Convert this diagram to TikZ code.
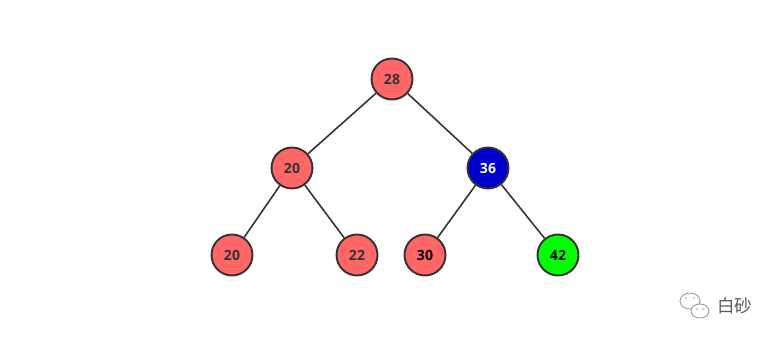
\documentclass[tikz,border=0pt]{standalone}
\usepackage{fontspec}
\usepackage{xcolor}
\setmainfont{Open Sans}
\newfontfamily\cjk{Noto Sans CJK SC}
\usetikzlibrary{positioning}
\definecolor{edgegray}{HTML}{333333}
\definecolor{keyred}{HTML}{FF6666}
\definecolor{keyblue}{HTML}{0000CC}
\definecolor{keygreen}{HTML}{00FF00}
\definecolor{markgray}{HTML}{9A9A9A}

\begin{document}
\begin{tikzpicture}[x=0.02cm, y=-0.02cm,
      every node/.style={font=\fontsize{8}{9}\selectfont\bfseries},
      key/.style={circle, draw=edgegray, line width=1.1pt, minimum size=0.82cm, inner sep=0pt, fill=keyred, text=edgegray},
      link/.style={draw=edgegray, line width=0.9pt}]
    \useasboundingbox (0,0) rectangle (779,340);
    \node[key] (root) at (392,79) {28};
    \node[key] (l) at (292,168) {20};
    \node[key, fill=keyblue, text=white] (r) at (488,168) {36};
    \node[key] (ll) at (232,255) {20};
    \node[key] (lr) at (357,255) {22};
    \node[key, text=black] (rl) at (425,255) {30};
    \node[key, fill=keygreen, text=black] (rr) at (558,255) {42};
    \draw[link] (root) -- (l);
    \draw[link] (root) -- (r);
    \draw[link] (l) -- (ll);
    \draw[link] (l) -- (lr);
    \draw[link] (r) -- (rl);
    \draw[link] (r) -- (rr);
    % watermark
    \draw[markgray, line width=0.5pt, fill=white] (690,301) ellipse (10 and 8);
    \fill[markgray] (686,298) circle (0.9) (694,298) circle (0.9);
    \draw[markgray, line width=0.5pt, fill=white] (700,311) ellipse (9 and 7);
    \fill[markgray] (697,309) circle (0.8) (703,309) circle (0.8);
    \node[font=\cjk\fontsize{10}{11}\selectfont, text=black!65, anchor=west, inner sep=0pt] (mark) at (717,306) {白砂};
  \end{tikzpicture}
\end{document}
